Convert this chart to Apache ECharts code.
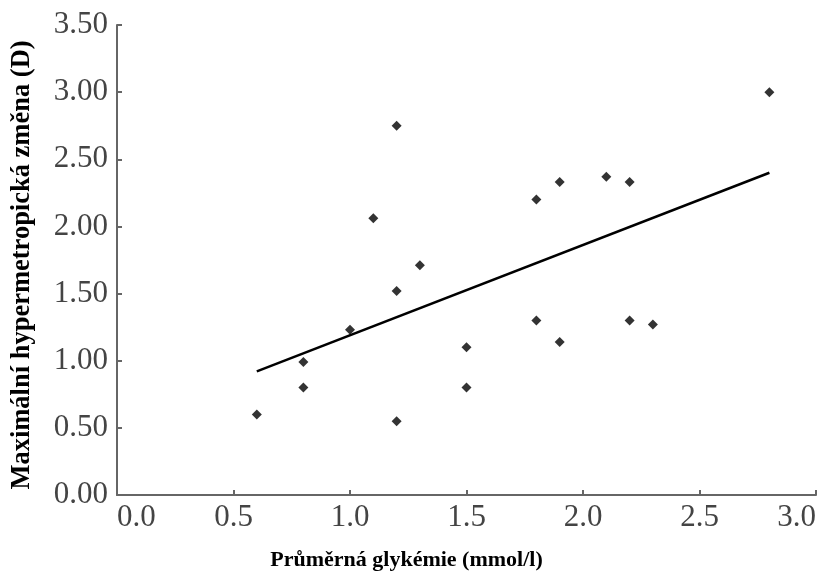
<!DOCTYPE html>
<html>
<head>
<meta charset="utf-8">
<script src="https://cdn.jsdelivr.net/npm/echarts@6/dist/echarts.min.js"></script>
<style>
  html, body { margin: 0; padding: 0; background: #fff; }
  #chart { width: 828px; height: 576px; }
</style>
</head>
<body>
<div id="chart"></div>
<script>
// průměrná glykémie (x) a maximální hypermetropická změna (y)
var glykemie = [0.6, 0.8, 0.8, 1.0, 1.1, 1.2, 1.2, 1.2, 1.3, 1.5, 1.5, 1.8, 1.8, 1.9, 1.9, 2.1, 2.2, 2.2, 2.3, 2.8];
var zmena    = [0.60, 0.99, 0.80, 1.23, 2.06, 2.75, 1.52, 0.55, 1.71, 1.10, 0.80, 2.20, 1.30, 2.33, 1.14, 2.37, 2.33, 1.30, 1.27, 3.00];

// regresní přímka (koncové body)
var trendX = [0.6, 2.8];
var trendY = [0.92, 2.40];

var serif = '"Liberation Serif", "DejaVu Serif", serif';

var chart = echarts.init(document.getElementById('chart'));

var points = glykemie.map(function (x, i) { return [x, zmena[i]]; });
var trend = trendX.map(function (x, i) { return [x, trendY[i]]; });

chart.setOption({
  animation: false,
  backgroundColor: '#fff',
  grid: { left: 117, right: 12, top: 25, bottom: 81, containLabel: false, outerBoundsMode: 'none' },
  xAxis: {
    type: 'value',
    min: 0, max: 3, interval: 0.5,
    name: 'Průměrná glykémie (mmol/l)',
    nameLocation: 'middle',
    nameGap: 54,
    nameTextStyle: { fontFamily: serif, fontWeight: 'bold', fontSize: 22, color: '#000', padding: [0, 120, 0, 0] },
    axisLine: { lineStyle: { color: '#666', width: 2 } },
    axisTick: { inside: true, length: 5, lineStyle: { color: '#666', width: 2 } },
    axisLabel: { fontFamily: serif, fontSize: 31, color: '#444', margin: 7,
      alignMinLabel: 'left', alignMaxLabel: 'right',
      formatter: function (v) { return v.toFixed(1); } },
    splitLine: { show: false }
  },
  yAxis: {
    type: 'value',
    min: 0, max: 3.5, interval: 0.5,
    name: 'Maximální hypermetropická změna (D)',
    nameLocation: 'middle',
    nameGap: 81,
    nameTextStyle: { fontFamily: serif, fontWeight: 'bold', fontSize: 26.5, color: '#000', padding: [0, 10, 0, 0] },
    axisLine: { show: true, lineStyle: { color: '#666', width: 2 } },
    axisTick: { show: true, inside: true, length: 5, lineStyle: { color: '#666', width: 2 } },
    axisLabel: { fontFamily: serif, fontSize: 31, color: '#444', margin: 9,
      formatter: function (v) { return v.toFixed(2); } },
    splitLine: { show: false }
  },
  series: [
    {
      type: 'line',
      data: trend,
      symbol: 'none',
      lineStyle: { color: '#000', width: 2.5 },
      z: 2
    },
    {
      type: 'scatter',
      data: points,
      symbol: 'diamond',
      symbolSize: 10,
      itemStyle: { color: '#000' },
      z: 3
    }
  ]
});
</script>
</body>
</html>
